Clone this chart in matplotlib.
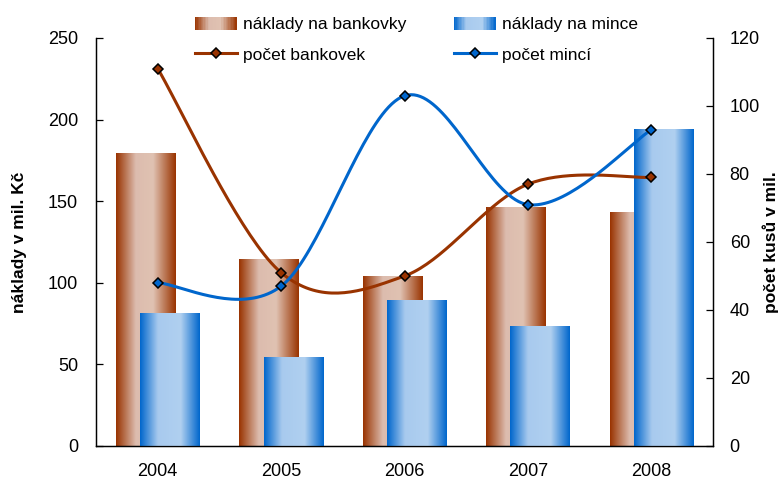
import numpy as np
import matplotlib
matplotlib.use("Agg")
import matplotlib.pyplot as plt
from matplotlib.colors import LinearSegmentedColormap
from matplotlib.legend_handler import HandlerBase
from matplotlib.patches import Rectangle
from matplotlib.lines import Line2D

plt.rcParams['font.family'] = ['Liberation Sans', 'DejaVu Sans']

# data
roky = ['2004', '2005', '2006', '2007', '2008']
naklady_bankovky = [179, 114, 104, 146, 143]
naklady_mince = [81, 54, 89, 73, 194]
pocet_bankovek = [111, 51, 50, 77, 79]
pocet_minci = [48, 47, 103, 71, 93]

hneda = '#993300'
modra = '#0066CC'
cmap_hneda = LinearSegmentedColormap.from_list(
    'hneda', [(0, hneda), (0.33, '#dcbcae'), (0.62, '#e0c2b2'), (1, hneda)])
cmap_modra = LinearSegmentedColormap.from_list(
    'modra', [(0, modra), (0.3, '#a8caee'), (0.68, '#b0d0f0'), (1, modra)])


def vyhlazeni(y, n=40):
    # vyhlazena cara jako v Excelu (bezier z catmull-rom kontrolnich bodu)
    x = np.arange(len(y), dtype=float)
    y = np.asarray(y, dtype=float)
    px = np.concatenate([[x[0]], x, [x[-1]]])
    py = np.concatenate([[y[0]], y, [y[-1]]])
    xs, ys = [], []
    t = np.linspace(0, 1, n)
    for i in range(len(y) - 1):
        p0 = np.array([px[i + 1], py[i + 1]])
        p3 = np.array([px[i + 2], py[i + 2]])
        c1 = p0 + (p3 - np.array([px[i], py[i]])) / 6
        c2 = p3 - (np.array([px[i + 3], py[i + 3]]) - p0) / 6
        b = ((1 - t) ** 3)[:, None] * p0 + (3 * (1 - t) ** 2 * t)[:, None] * c1 \
            + (3 * (1 - t) * t ** 2)[:, None] * c2 + (t ** 3)[:, None] * p3
        xs.extend(b[:, 0])
        ys.extend(b[:, 1])
    return np.array(xs), np.array(ys)


class HandlerGradient(HandlerBase):
    def __init__(self, cmap):
        super().__init__()
        self.cmap = cmap

    def create_artists(self, legend, orig_handle, xdescent, ydescent, width, height, fontsize, trans):
        n = 30
        arts = []
        for i in range(n):
            r = Rectangle((-xdescent + width * i / n, -ydescent), width / n + 0.3, height,
                          facecolor=self.cmap((i + 0.5) / n), edgecolor='none', transform=trans)
            arts.append(r)
        return arts


fig = plt.figure(figsize=(7.84, 4.83), dpi=100)
ax = fig.add_axes([96 / 784, 37 / 483, 617 / 784, 408 / 483])
ax2 = ax.twinx()

x = np.arange(len(roky))
sirka = 0.48
grad = np.linspace(0, 1, 256).reshape(1, -1)

bars_b = ax.bar(x - 0.098, naklady_bankovky, sirka, color='#c08070', zorder=2)
bars_m = ax.bar(x + 0.098, naklady_mince, sirka, color='#70a0e0', zorder=3)
for bars, cmap, z in [(bars_b, cmap_hneda, 2.1), (bars_m, cmap_modra, 3.1)]:
    for p in bars:
        bx, by = p.get_x(), p.get_y()
        ax.imshow(grad, cmap=cmap, aspect='auto', interpolation='bilinear',
                  extent=[bx, bx + p.get_width(), by, by + p.get_height()], zorder=z)

ax.set_xlim(-0.5, 4.5)
ax.set_ylim(0, 250)
ax.set_yticks(range(0, 251, 50))
ax.set_xticks(x, roky)

xs, ys = vyhlazeni(pocet_bankovek)
ax2.plot(xs, ys, color=hneda, lw=2.2, solid_capstyle='round', zorder=4)
ax2.plot(x, pocet_bankovek, ls='none', marker='D', ms=5.5, mfc=hneda, mec='black', mew=1.1, zorder=5)
xs, ys = vyhlazeni(pocet_minci)
ax2.plot(xs, ys, color=modra, lw=2.2, solid_capstyle='round', zorder=4)
ax2.plot(x, pocet_minci, ls='none', marker='D', ms=5.5, mfc=modra, mec='black', mew=1.1, zorder=5)
ax2.set_ylim(0, 120)
ax2.set_yticks(range(0, 121, 20))

for a in (ax, ax2):
    a.spines['top'].set_visible(False)
    for s in a.spines.values():
        s.set_linewidth(0.9)
    a.tick_params(axis='y', direction='in', length=5, width=0.9, labelsize=13)
    a.tick_params(axis='x', length=0, labelsize=13, pad=12)
ax.tick_params(axis='y', pad=13)
ax2.tick_params(axis='y', pad=12)

ax.set_ylabel('náklady v mil. Kč', fontsize=12.5, fontweight='bold', labelpad=15)
ax2.set_ylabel('počet kusů v mil.', fontsize=12.5, fontweight='bold', labelpad=2)

h_b = Rectangle((0, 0), 1, 1)
h_m = Rectangle((0, 0), 1, 1)
h_lb = Line2D([], [], color=hneda, lw=2.2, marker='D', ms=5.5, mfc=hneda, mec='black', mew=1.1)
h_lm = Line2D([], [], color=modra, lw=2.2, marker='D', ms=5.5, mfc=modra, mec='black', mew=1.1)
fig.legend([h_b, h_lb, h_m, h_lm],
           ['náklady na bankovky', 'počet bankovek', 'náklady na mince', 'počet mincí'],
           handler_map={h_b: HandlerGradient(cmap_hneda), h_m: HandlerGradient(cmap_modra)},
           ncol=2, loc='upper left', bbox_to_anchor=(195 / 784, 1 - 17 / 483),
           frameon=False, fontsize=12.5, handlelength=2.4, handleheight=0.75,
           handletextpad=0.35, columnspacing=2.75, labelspacing=0.85,
           borderpad=0, borderaxespad=0)

fig.savefig('out.png', dpi=100)
